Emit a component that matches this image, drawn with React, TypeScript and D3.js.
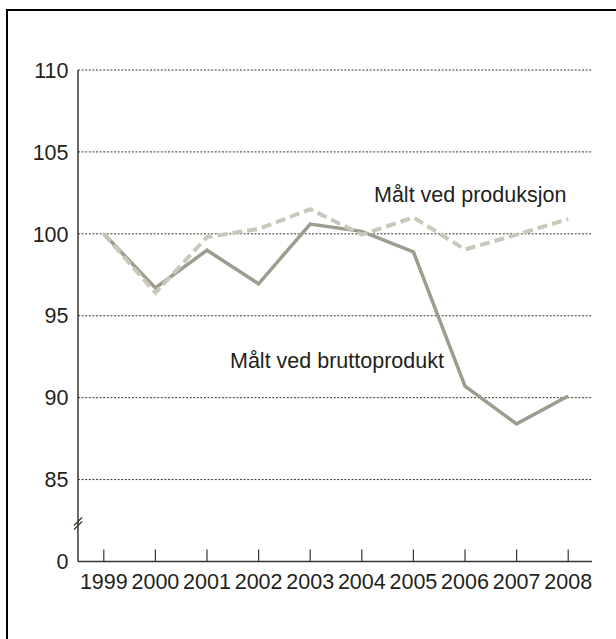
import React from "react";
import * as d3 from "d3";

const years = ["1999", "2000", "2001", "2002", "2003", "2004", "2005", "2006", "2007", "2008"];
const bruttoprodukt = [100, 96.7, 99.0, 96.95, 100.6, 100.15, 98.9, 90.7, 88.4, 90.1];
const produksjon = [100, 96.4, 99.8, 100.3, 101.5, 99.95, 101.0, 99.05, 99.95, 100.9];
const yTicks = [85, 90, 95, 100, 105, 110];
const yBreakValue = 80;
const yBreakLabel = "0";
const labelProduksjon = "Målt ved produksjon";
const labelBrutto = "Målt ved bruttoprodukt";

const W = 616;
const H = 639;
const textColor = "#231f1b";
const axisColor = "#3b342c";
const bruttoColor = "#9e9b8f";
const prodColor = "#cac8bb";
const font = "'Liberation Sans', Arial, sans-serif";
const fs = 21.5;

export default function App() {
  const left = 78;
  const right = 594;
  const x = d3.scaleBand<string>().domain(years).range([left, right]);
  const y = d3.scaleLinear().domain([yBreakValue, 110]).range([561.5, 70]);
  const cx = (yr: string) => (x(yr) as number) + x.bandwidth() / 2;

  const line = d3
    .line<number>()
    .x((_, i) => cx(years[i]))
    .y((d) => y(d));

  const y0 = y(yBreakValue);
  const gridRight = 592;

  return (
    <svg
      width={W}
      height={H}
      style={{ position: "absolute", left: 0, top: 0, background: "#fff" }}
      fontFamily={font}
    >
      <rect x={7} y={10} width={W + 20} height={H + 20} fill="none" stroke="#000" strokeWidth={2} />
      {yTicks.map((t) => (
        <line
          key={t}
          x1={left}
          x2={gridRight}
          y1={y(t)}
          y2={y(t)}
          stroke={axisColor}
          strokeWidth={1}
          strokeDasharray="2,1.6"
        />
      ))}
      <line x1={left} x2={left} y1={y(110)} y2={y0} stroke={axisColor} strokeWidth={1.5} />
      <line x1={left - 4} x2={left + 4} y1={y0 - 36} y2={y0 - 44} stroke={axisColor} strokeWidth={1.2} />
      <line x1={left - 4} x2={left + 4} y1={y0 - 32} y2={y0 - 40} stroke={axisColor} strokeWidth={1.2} />
      <line x1={left} x2={gridRight} y1={y0} y2={y0} stroke={axisColor} strokeWidth={1.5} />
      {years.map((yr) => (
        <g key={yr}>
          <line x1={cx(yr)} x2={cx(yr)} y1={y0} y2={y0 - 12} stroke={axisColor} strokeWidth={1.2} />
          <text x={cx(yr)} y={588.5} textAnchor="middle" fontSize={fs} fill={textColor}>
            {yr}
          </text>
        </g>
      ))}
      {yTicks.map((t) => (
        <text key={t} x={68.5} y={y(t)} dy="0.36em" textAnchor="end" fontSize={fs} fill={textColor}>
          {t}
        </text>
      ))}
      <text x={68.5} y={y0} dy="0.36em" textAnchor="end" fontSize={fs} fill={textColor}>
        {yBreakLabel}
      </text>
      <path d={line(bruttoprodukt) || ""} fill="none" stroke={bruttoColor} strokeWidth={3.5} strokeLinejoin="miter" />
      <path
        d={line(produksjon) || ""}
        fill="none"
        stroke={prodColor}
        strokeWidth={4}
        strokeDasharray="10,5"
        strokeLinejoin="miter"
      />
      <text x={374} y={201.5} fontSize={fs} fill={textColor}>
        {labelProduksjon}
      </text>
      <text x={230} y={367.5} fontSize={fs} fill={textColor}>
        {labelBrutto}
      </text>
    </svg>
  );
}
